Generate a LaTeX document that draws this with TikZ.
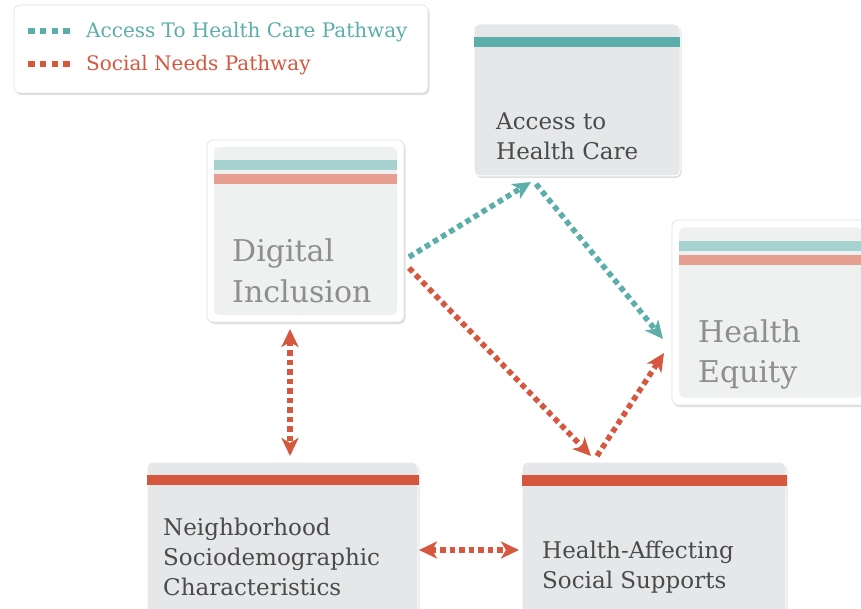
\documentclass[tikz,border=0pt]{standalone}
\usepackage{fontspec}
\setmainfont{DejaVu Serif}
\usetikzlibrary{arrows.meta,shadows,calc}
\definecolor{tealc}{HTML}{5BAEAA}
\definecolor{redc}{HTML}{D5573E}
\definecolor{lteal}{HTML}{A6D2D0}
\definecolor{lred}{HTML}{E59E90}
\definecolor{boxgrey}{HTML}{E6E7E9}
\definecolor{boxlight}{HTML}{EFF0F0}
\definecolor{darktext}{HTML}{4A4A4A}
\definecolor{lighttext}{HTML}{8E8E8E}
\tikzset{
  shadowed/.style={drop shadow={opacity=0.25,shadow xshift=1.5pt,shadow yshift=-2pt}},
  outerbox/.style={rectangle,rounded corners=6pt,fill=white,draw=black!12,line width=0.6pt,shadowed,inner sep=0pt},
  innerbox/.style={rectangle,rounded corners=5pt,fill=boxlight,inner sep=0pt},
  greybox/.style={rectangle,rounded corners=6pt,fill=boxgrey,draw=white,line width=1pt,shadowed,inner sep=0pt},
  bigtext/.style={anchor=base west,inner sep=0pt,align=left,text=lighttext,font=\fontsize{30}{40}\selectfont},
  smalltext/.style={anchor=base west,inner sep=0pt,align=left,text=darktext,font=\fontsize{23}{30}\selectfont},
  tip/.style={},
  tealpath/.style={draw=tealc,line width=5.5pt,dash pattern=on 5.5pt off 4pt,-{Stealth[length=18pt,width=17pt,inset=5pt]}},
  redpath/.style={draw=redc,line width=5.5pt,dash pattern=on 5.5pt off 4pt,-{Stealth[length=18pt,width=17pt,inset=5pt]}},
  redboth/.style={draw=redc,line width=5.5pt,dash pattern=on 5.5pt off 4pt,{Stealth[length=18pt,width=17pt,inset=5pt]}-{Stealth[length=18pt,width=17pt,inset=5pt]}},
  legdash/.style={line width=6pt,dash pattern=on 6.6pt off 5.2pt},
  legtext/.style={anchor=base west,inner sep=0pt,font=\fontsize{20}{22}\selectfont}
}
\begin{document}
\begin{tikzpicture}[x=1pt,y=-1pt]
\useasboundingbox (0,0) rectangle (861,609);

% legend
\node[outerbox,minimum width=414pt,minimum height=88pt] (leg) at (221,49) {};
\coordinate (la1) at (28,31); \coordinate (lb1) at (70,31);
\coordinate (la2) at (28,64); \coordinate (lb2) at (70,64);
\draw[legdash,tealc] (la1) -- (lb1);
\draw[legdash,redc] (la2) -- (lb2);
\node[legtext,text=tealc] (legt1) at (86,38) {Access To Health Care Pathway};
\node[legtext,text=redc] (legt2) at (86,71) {Social Needs Pathway};

% Access to Health Care
\node[greybox,minimum width=206pt,minimum height=152pt] (ahc) at (577,100) {};
\fill[tealc] ($(ahc.north west)+(0,14)$) rectangle ($(ahc.north east)+(-1,24)$);
\node[smalltext] (ahct) at (496,160) {Access to\\Health Care};

% Digital Inclusion
\node[outerbox,minimum width=197pt,minimum height=182pt] (di) at (305.5,231) {};
\node[innerbox,minimum width=183pt,minimum height=168pt] (dii) at (305.5,231) {};
\fill[lteal] ($(dii.north west)+(0,13)$) rectangle ($(dii.north east)+(0,23)$);
\fill[lred] ($(dii.north west)+(0,27)$) rectangle ($(dii.north east)+(0,37)$);
\node[bigtext] (dit) at (232,302) {Digital\\Inclusion};

% Health Equity
\node[outerbox,minimum width=197pt,minimum height=185pt] (he) at (770.5,312.5) {};
\node[innerbox,minimum width=183pt,minimum height=170pt] (hei) at (770.5,312.5) {};
\fill[lteal] ($(hei.north west)+(0,13.5)$) rectangle ($(hei.north east)+(0,23.5)$);
\fill[lred] ($(hei.north west)+(0,27.5)$) rectangle ($(hei.north east)+(0,37.5)$);
\node[bigtext] (het) at (698,382) {Health\\Equity};

% Neighborhood
\node[greybox,minimum width=271pt,minimum height=154pt] (nsc) at (282.5,539) {};
\fill[redc] ($(nsc.north west)+(0,13)$) rectangle ($(nsc.north east)+(0,23)$);
\node[smalltext] (nsct) at (163,595) {Neighborhood\\Sociodemographic\\Characteristics};

% Health-Affecting
\node[greybox,minimum width=264pt,minimum height=154pt] (has) at (654,539) {};
\fill[redc] ($(has.north west)+(0,13)$) rectangle ($(has.north east)+(0,24)$);
\node[smalltext] (hast) at (542,588) {Health-Affecting\\Social Supports};

% connectors
\coordinate (t1s) at (409,257); \coordinate (t1e) at (531,182);
\coordinate (t2s) at (536,184); \coordinate (t2e) at (663,339);
\coordinate (r1s) at (409,268); \coordinate (r1e) at (591,456);
\coordinate (r2s) at (597,456); \coordinate (r2e) at (664,353);
\coordinate (vs) at (290,329); \coordinate (ve) at (290,456);
\coordinate (hs) at (419,550); \coordinate (he2) at (519,550);
\draw[tealpath] (t1s) -- (t1e);
\draw[tealpath] (t2s) -- (t2e);
\draw[redpath] (r1s) -- (r1e);
\draw[redpath] (r2s) -- (r2e);
\draw[redboth] (vs) -- (ve);
\draw[redboth] (hs) -- (he2);
\end{tikzpicture}
\end{document}
